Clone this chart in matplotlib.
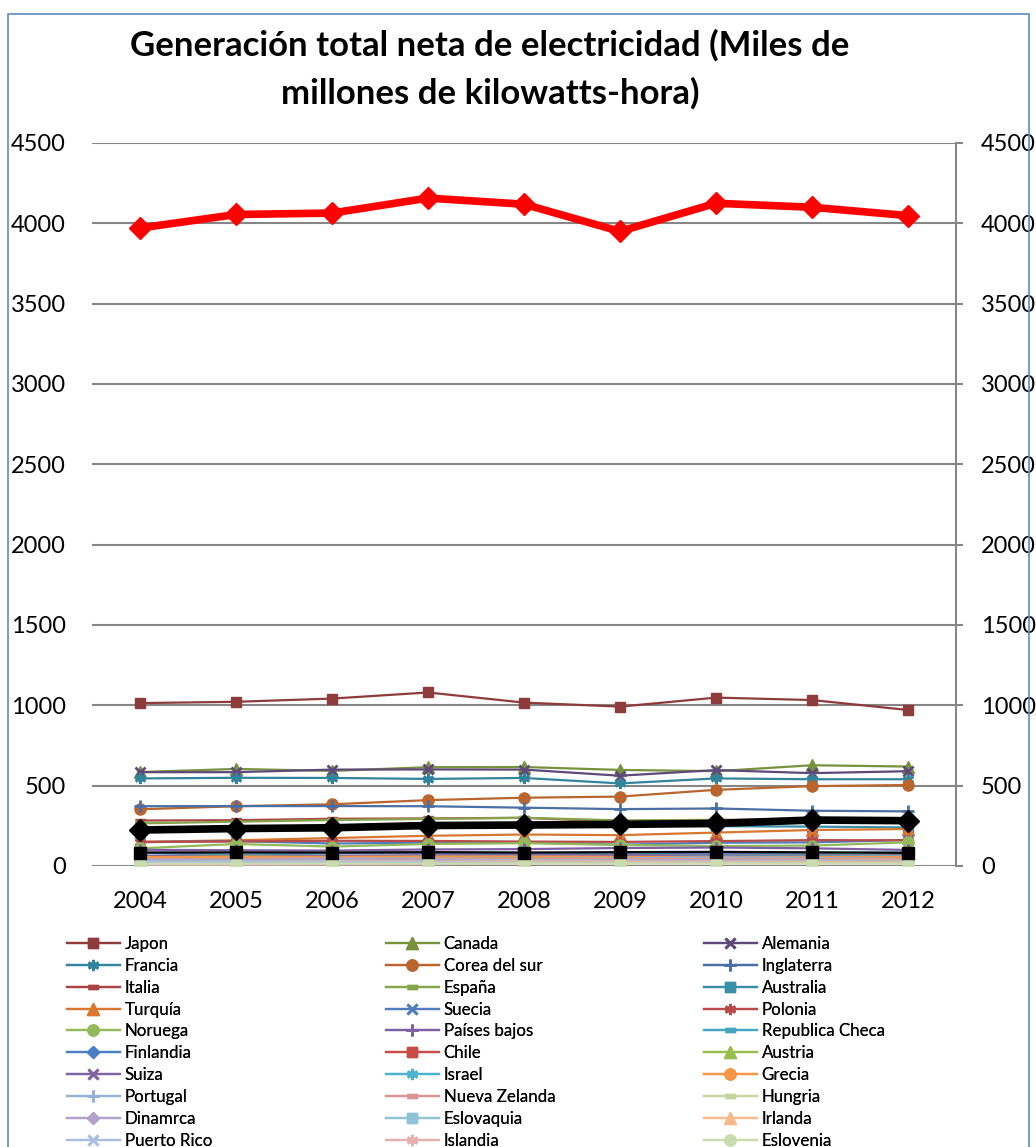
import numpy as np
import matplotlib
matplotlib.use("Agg")
import matplotlib.pyplot as plt
from matplotlib.patches import Rectangle

plt.rcParams['font.family'] = ['Lato', 'DejaVu Sans']

# =========================
# datos (miles de millones de kWh)
# =========================
years = [2004, 2005, 2006, 2007, 2008, 2009, 2010, 2011, 2012]

estados_unidos = [3971, 4055, 4064, 4157, 4119, 3950, 4125, 4100, 4048]
mexico = [224, 233, 238, 252, 255, 259, 265, 286, 282]
belgica = [84, 85, 84, 86, 84, 86, 88, 85, 82]

japon = [1014, 1022, 1042, 1080, 1017, 992, 1048, 1033, 971]
canada = [585, 604, 592, 615, 616, 598, 590, 627, 619]
alemania = [584, 584, 600, 601, 600, 562, 597, 578, 590]
francia = [545, 549, 548, 542, 548, 514, 545, 540, 540]
corea = [353, 372, 384, 410, 425, 432, 474, 497, 504]
inglaterra = [372, 373, 373, 372, 363, 354, 358, 344, 340]
italia = [283, 285, 294, 296, 300, 275, 287, 289, 285]
espana = [265, 276, 286, 293, 300, 284, 287, 280, 284]
australia = [225, 232, 240, 245, 245, 250, 248, 245, 240]
turquia = [150, 160, 174, 188, 196, 192, 208, 224, 230]
suecia = [148, 155, 140, 145, 146, 133, 145, 147, 162]
polonia = [150, 153, 157, 156, 152, 150, 155, 161, 160]
noruega = [110, 137, 121, 137, 142, 131, 124, 127, 147]
paises_bajos = [101, 98, 96, 103, 105, 112, 115, 110, 100]
rep_checa = [80, 78, 80, 84, 80, 79, 82, 83, 84]
finlandia = [82, 68, 79, 78, 74, 69, 77, 70, 68]
chile = [50, 52, 55, 58, 59, 60, 60, 65, 69]
austria = [62, 64, 62, 62, 64, 66, 68, 63, 70]
suiza = [63, 58, 62, 66, 67, 67, 66, 63, 68]
israel = [47, 49, 51, 54, 57, 55, 58, 59, 62]
grecia = [56, 56, 57, 59, 59, 57, 53, 55, 57]
portugal = [42, 44, 47, 45, 43, 48, 52, 50, 44]
nueva_zelanda = [41, 42, 43, 42, 42, 43, 44, 44, 43]
hungria = [32, 34, 34, 38, 38, 34, 36, 34, 33]
dinamarca = [38, 35, 44, 38, 35, 35, 37, 34, 29]
eslovaquia = [29, 30, 30, 27, 28, 26, 27, 28, 28]
irlanda = [24, 25, 27, 27, 29, 27, 27, 26, 25]
puerto_rico = [23, 23, 23, 23, 22, 21, 21, 20, 20]
islandia = [8.6, 8.7, 9.9, 12, 16, 16, 17, 17, 17]
eslovenia = [14, 14, 15, 15, 16, 16, 16, 16, 15]

# marcadores tipo Excel
ASTER = (6, 2, 0)
DASH = [(-1, -0.35), (1, -0.35), (1, 0.35), (-1, 0.35)]

# (nombre, valores, color, marcador, tamaño)
series = [
    ("Japon", japon, "#8E3B3B", "s", 7),
    ("Canada", canada, "#76923C", "^", 8),
    ("Alemania", alemania, "#5F497A", "x", 7),
    ("Francia", francia, "#31849B", ASTER, 8),
    ("Corea del sur", corea, "#B9652D", "o", 8),
    ("Inglaterra", inglaterra, "#4A6FA5", "+", 8),
    ("Italia", italia, "#A94442", DASH, 7),
    ("España", espana, "#86A44A", DASH, 7),
    ("Australia", australia, "#3A8FA8", "s", 7),
    ("Turquía", turquia, "#D9762F", "^", 8),
    ("Suecia", suecia, "#4F7DBD", "x", 7),
    ("Polonia", polonia, "#B84A47", ASTER, 8),
    ("Noruega", noruega, "#93B95A", "o", 8),
    ("Países bajos", paises_bajos, "#7D5FA3", "+", 8),
    ("Republica Checa", rep_checa, "#45A6C4", DASH, 7),
    ("Finlandia", finlandia, "#4A7EC5", "D", 6),
    ("Chile", chile, "#C94B48", "s", 7),
    ("Austria", austria, "#9ABF4F", "^", 8),
    ("Suiza", suiza, "#8064A2", "x", 7),
    ("Israel", israel, "#4BB3CF", ASTER, 8),
    ("Grecia", grecia, "#F79646", "o", 8),
    ("Portugal", portugal, "#95B3D7", "+", 8),
    ("Nueva Zelanda", nueva_zelanda, "#D99694", DASH, 7),
    ("Hungria", hungria, "#C3D69B", DASH, 7),
    ("Dinamrca", dinamarca, "#B3A2C7", "D", 6),
    ("Eslovaquia", eslovaquia, "#8CC3D6", "s", 7),
    ("Irlanda", irlanda, "#FAB98A", "^", 8),
    ("Puerto Rico", puerto_rico, "#A9BEE0", "x", 7),
    ("Islandia", islandia, "#E6B0AF", ASTER, 8),
    ("Eslovenia", eslovenia, "#C9DCAE", "o", 8),
]

W, H = 1036, 1147
fig = plt.figure(figsize=(W / 100, H / 100), dpi=100)

# borde del área del gráfico
fig.patches.append(Rectangle((8 / W, -0.05), 1021 / W, 1 - 14 / H + 0.05,
                             transform=fig.transFigure, fill=False,
                             edgecolor="#5B8BC9", linewidth=1.2))

ax = fig.add_axes([92 / W, 1 - 866 / H, 864 / W, 723 / H])
x = np.arange(len(years))

handles = []
for name, vals, col, mk, ms in series:
    mew = 2 if mk in ("x", "+") or mk == ASTER else 1
    ln, = ax.plot(x, vals, color=col, linewidth=1.6, marker=mk, markersize=ms,
                  markerfacecolor=col, markeredgecolor=col, markeredgewidth=mew,
                  label=name, zorder=3)
    handles.append(ln)

ax.plot(x, belgica, color="black", linewidth=1.6, marker="s", markersize=8, zorder=4)
ax.plot(x, mexico, color="black", linewidth=5.5, marker="D", markersize=11, zorder=5)
ax.plot(x, estados_unidos, color="#FF0000", linewidth=5.5, marker="D",
        markersize=11, zorder=5)

ax.set_xlim(-0.5, len(years) - 0.5)
ax.set_ylim(0, 4500)
ax.set_yticks(np.arange(0, 4501, 500))
ax.set_xticks(x)
ax.set_xticklabels([str(y) for y in years], fontsize=17)
ax.tick_params(axis="x", length=0, pad=18)
ax.tick_params(axis="y", length=0, pad=19, labelsize=17)
ax.grid(axis="y", color="#868686", linewidth=1.5, zorder=1)
ax.set_axisbelow(True)
for s in ax.spines.values():
    s.set_visible(False)

# eje derecho
ax2 = ax.twinx()
ax2.set_ylim(0, 4500)
ax2.set_yticks(np.arange(0, 4501, 500))
ax2.tick_params(axis="y", direction="out", length=5, width=1.5, color="#868686",
                pad=13, labelsize=17)
for s in ("top", "bottom", "left"):
    ax2.spines[s].set_visible(False)
ax2.spines["right"].set_color("#868686")
ax2.spines["right"].set_linewidth(1.5)

fig.text(490 / W, 1 - 45 / H, "Generación total neta de electricidad (Miles de",
         ha="center", va="center", fontsize=25, fontweight="bold")
fig.text(490 / W, 1 - 93 / H, "millones de kilowatts-hora)",
         ha="center", va="center", fontsize=25, fontweight="bold")

# leyenda en tres columnas, orden por filas
col_x = [67, 386, 704]
for c in range(3):
    hs = handles[c::3]
    leg = fig.legend(handles=hs, labels=[h.get_label() for h in hs],
                     loc="upper left", bbox_to_anchor=(col_x[c] / W, 1 - 936 / H),
                     frameon=False, fontsize=12.2, handlelength=3.1,
                     handletextpad=0.3, labelspacing=0.345, borderpad=0,
                     borderaxespad=0, numpoints=1)
    fig.add_artist(leg)

fig.savefig("out.png", dpi=100)
